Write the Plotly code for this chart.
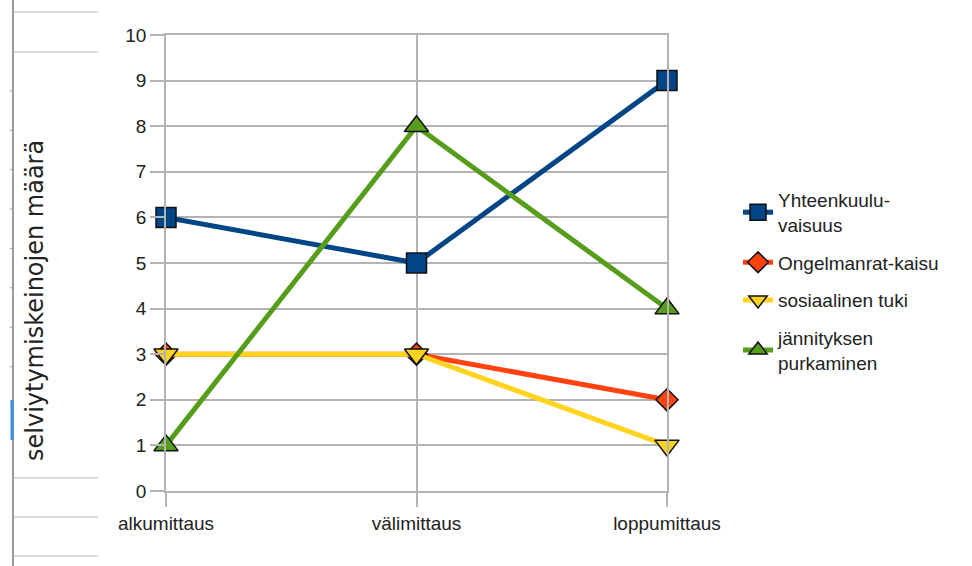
import plotly.graph_objects as go

categories = ["alkumittaus", "välimittaus", "loppumittaus"]
yhteenkuuluvaisuus = [6, 5, 9]
ongelmanratkaisu = [3, 3, 2]
sosiaalinen_tuki = [3, 3, 1]
jannityksen_purkaminen = [1, 8, 4]

series_names = ["Yhteenkuulu-<br>vaisuus", "Ongelmanrat-kaisu", "sosiaalinen tuki",
                "jännityksen<br>purkaminen"]
y_ticks = list(range(0, 11))

W, H = 972, 566
L, R, T, B = 166, 305, 35, 75
PW, PH = W - L - R, H - T - B


def px_x(x):
    return (x - L) / PW


def px_y(y):
    return (H - B - y) / PH


fig = go.Figure()
specs = [
    (yhteenkuuluvaisuus, "#004586", "square", 20),
    (ongelmanratkaisu, "#ff420e", "diamond", 17),
    (sosiaalinen_tuki, "#ffd320", "triangle-down", 21),
    (jannityksen_purkaminen, "#579d1c", "triangle-up", 21),
]
for i, (vals, col, sym, sz) in enumerate(specs):
    fig.add_trace(go.Scatter(
        x=categories, y=vals, name=series_names[i], mode="lines+markers",
        line=dict(color=col, width=5),
        marker=dict(symbol=sym, size=sz, color=col, line=dict(color="#111", width=1.5)),
        cliponaxis=False, legendgroup=str(i),
    ))

shapes = []
gray = "#9a9a9a"
# left spreadsheet remnants
shapes.append(dict(type="line", xref="paper", yref="paper", x0=px_x(13), x1=px_x(13),
                   y0=px_y(0), y1=px_y(566), line=dict(color=gray, width=2)))
for yy in [12, 52, 478, 517, 556]:
    shapes.append(dict(type="line", xref="paper", yref="paper", x0=px_x(13), x1=px_x(98),
                       y0=px_y(yy), y1=px_y(yy), line=dict(color="#b8b8b8", width=1.2)))
for k in range(2, 11):
    yy = 12 + 39.4 * k
    shapes.append(dict(type="line", xref="paper", yref="paper", x0=px_x(10), x1=px_x(13),
                       y0=px_y(yy), y1=px_y(yy), line=dict(color=gray, width=1)))
shapes.append(dict(type="line", xref="paper", yref="paper", x0=px_x(12), x1=px_x(12),
                   y0=px_y(400), y1=px_y(440), line=dict(color="#3a8ee6", width=3)))

fig.update_layout(
    width=W, height=H,
    margin=dict(l=L, r=R, t=T, b=B),
    paper_bgcolor="white", plot_bgcolor="white",
    font=dict(family="Liberation Sans, Arial, sans-serif", size=19, color="#222"),
    showlegend=True,
    legend=dict(x=px_x(738), y=px_y(181), xanchor="left", yanchor="top",
                font=dict(size=19, color="#222"), tracegroupgap=10,
                bgcolor="rgba(0,0,0,0)"),
    xaxis=dict(type="category", range=[0, 2], showgrid=True, gridcolor="#b3b3b3",
               gridwidth=1.5, showline=True, mirror=True, linecolor="#b3b3b3",
               linewidth=1.5, ticks="outside", ticklen=14, tickcolor="#b3b3b3",
               tickwidth=1.5, tickfont=dict(size=19), zeroline=False),
    yaxis=dict(range=[0, 10], tickvals=y_ticks, showgrid=True, gridcolor="#b3b3b3",
               gridwidth=1.5, showline=True, mirror=True, linecolor="#b3b3b3",
               linewidth=1.5, ticks="outside", ticklen=14, tickcolor="#b3b3b3",
               tickwidth=1.5, tickfont=dict(size=19), zeroline=False),
    shapes=shapes,
    annotations=[dict(text="selviytymiskeinojen määrä", xref="paper", yref="paper",
                      x=px_x(35), y=px_y(301), xanchor="center", yanchor="middle",
                      textangle=-90, showarrow=False,
                      font=dict(family="DejaVu Sans", size=24, color="#222"))],
)

fig.write_html("out.html")
